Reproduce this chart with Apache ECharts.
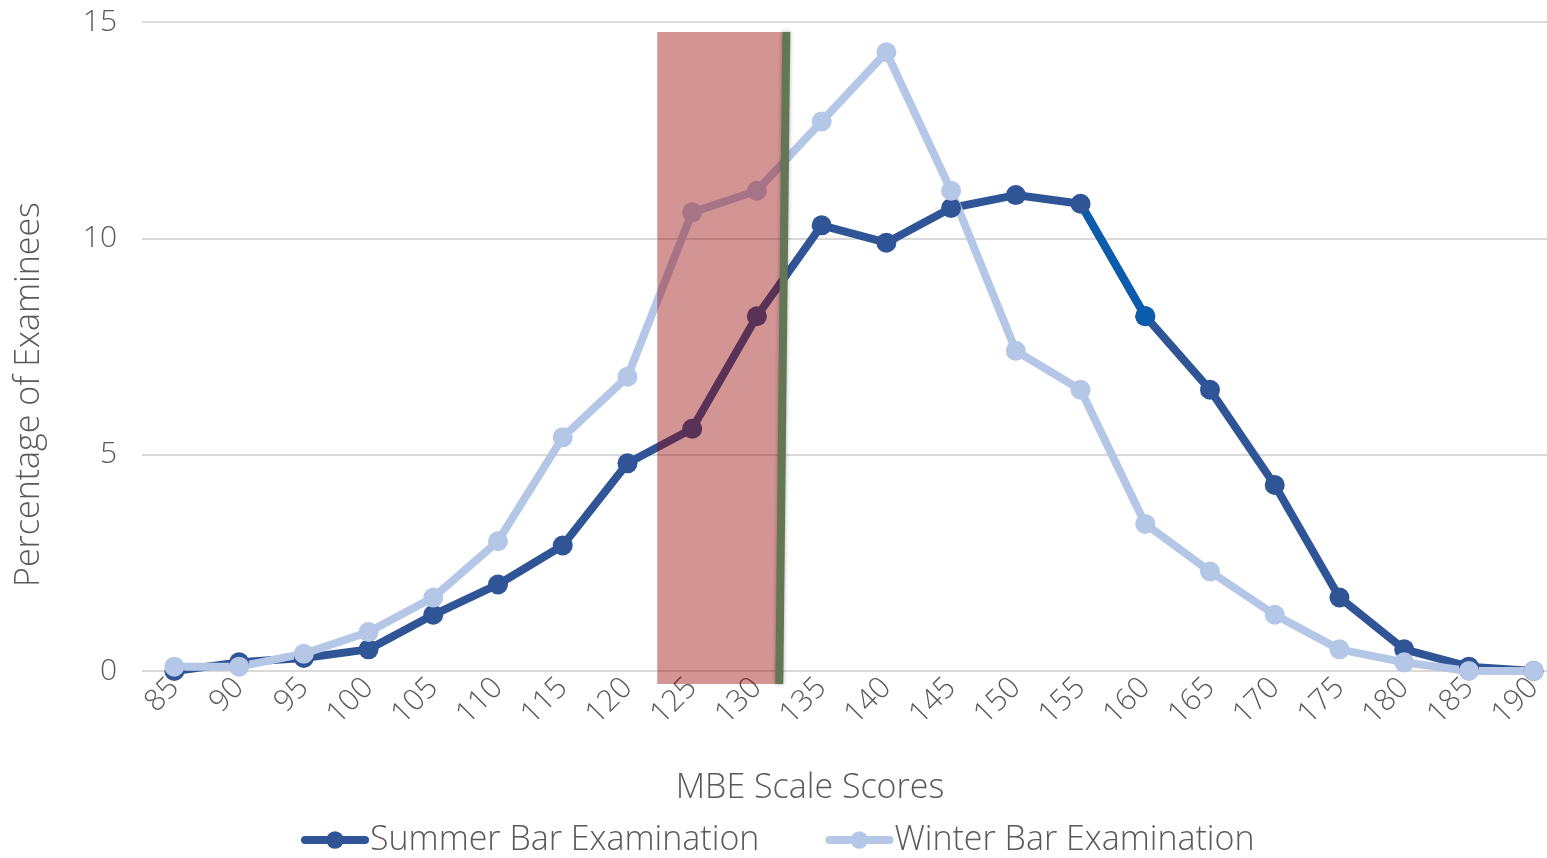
<!DOCTYPE html>
<html>
<head>
<meta charset="utf-8">
<script src="https://cdn.jsdelivr.net/npm/echarts@6/dist/echarts.min.js"></script>
<style>
  html, body { margin: 0; padding: 0; background: #ffffff; overflow: hidden; }
  #chart { width: 1566px; height: 858px; }
</style>
</head>
<body>
<div id="chart"></div>
<script>
// MBE scale score buckets
const scores = ['85','90','95','100','105','110','115','120','125','130','135','140','145','150','155','160','165','170','175','180','185','190'];

// Percentage of examinees per score bucket
const summerPct = [0.0, 0.2, 0.3, 0.5, 1.3, 2.0, 2.9, 4.8, 5.6, 8.2, 10.3, 9.9, 10.7, 11.0, 10.8, 8.2, 6.5, 4.3, 1.7, 0.5, 0.1, 0.0];
const winterPct = [0.1, 0.1, 0.4, 0.9, 1.7, 3.0, 5.4, 6.8, 10.6, 11.1, 12.7, 14.3, 11.1, 7.4, 6.5, 3.4, 2.3, 1.3, 0.5, 0.2, 0.0, 0.0];

// Summer segment drawn in the brighter blue
const accentFrom = '155';
const accentTo = '160';

// Shaded score band [scoreFrom, scoreTo, pctBottom, pctTop]
const shadedBand = [122.3, 132.0, -0.3, 14.77];
// Cut line endpoints [score, pct]
const cutTop = [132.27, 14.77];
const cutBottom = [131.73, -0.3];

const yTicks = [0, 5, 10, 15];

const TEXT = '#595959';
const FONT = '"Open Sans", Lato, sans-serif';

const accentData = scores.map((s, i) => {
  if (s === accentFrom) return { value: summerPct[i], symbol: 'none' };
  if (s === accentTo) return { value: summerPct[i] };
  return null;
});

const chart = echarts.init(document.getElementById('chart'), null, { renderer: 'canvas' });

chart.setOption({
  animation: false,
  backgroundColor: '#ffffff',
  textStyle: { fontFamily: FONT, fontWeight: 300 },
  grid: { left: 142, right: 0, top: 22, bottom: 187, containLabel: false, outerBoundsMode: 'none' },
  legend: {
    data: ['Summer Bar Examination', 'Winter Bar Examination'],
    top: 818,
    left: 296,
    itemWidth: 60,
    itemHeight: 22,
    itemGap: 66,
    lineStyle: { width: 8, cap: 'round' },
    textStyle: { color: TEXT, fontSize: 34, fontFamily: FONT, fontWeight: 300 }
  },
  xAxis: [
    {
      type: 'category',
      data: scores,
      boundaryGap: true,
      axisLine: { show: false },
      axisTick: { show: false },
      axisLabel: { color: TEXT, fontSize: 30, rotate: 45, margin: 12, fontFamily: FONT, fontWeight: 300 },
      name: 'MBE Scale Scores',
      nameLocation: 'middle',
      nameGap: 100,
      nameTextStyle: { color: TEXT, fontSize: 34, fontFamily: FONT, fontWeight: 300, padding: [0, 88, 0, 0] }
    },
    {
      type: 'value',
      min: 82.5,
      max: 192.5,
      show: false
    }
  ],
  yAxis: {
    type: 'value',
    min: yTicks[0],
    max: yTicks[yTicks.length - 1],
    interval: 5,
    axisLine: { show: false },
    axisTick: { show: false },
    axisLabel: { color: TEXT, fontSize: 30, margin: 25, fontFamily: FONT, fontWeight: 300 },
    splitLine: { lineStyle: { color: '#d9d9d9', width: 2 } },
    name: 'Percentage of Examinees',
    nameLocation: 'middle',
    nameRotate: 90,
    nameGap: 96,
    nameTextStyle: { color: TEXT, fontSize: 34, fontFamily: FONT, fontWeight: 300, padding: [0, 96, 0, 0] }
  },
  series: [
    {
      name: 'Summer Bar Examination',
      type: 'line',
      data: summerPct,
      symbol: 'circle',
      symbolSize: 20,
      lineStyle: { color: '#2F5597', width: 8 },
      itemStyle: { color: '#2F5597' }
    },
    {
      name: 'Winter Bar Examination',
      type: 'line',
      data: winterPct,
      symbol: 'circle',
      symbolSize: 20,
      lineStyle: { color: '#B4C7E7', width: 8 },
      itemStyle: { color: '#B4C7E7' }
    },
    {
      name: 'accent',
      type: 'line',
      data: accentData,
      symbol: 'circle',
      symbolSize: 20,
      connectNulls: false,
      lineStyle: { color: '#0B5CAD', width: 8 },
      itemStyle: { color: '#0B5CAD' }
    },
    {
      name: 'band',
      type: 'custom',
      xAxisIndex: 1,
      yAxisIndex: 0,
      z: 5,
      data: [shadedBand],
      renderItem: function (params, api) {
        const p0 = api.coord([api.value(0), api.value(3)]);
        const p1 = api.coord([api.value(1), api.value(2)]);
        return {
          type: 'rect',
          shape: { x: p0[0], y: p0[1], width: p1[0] - p0[0], height: p1[1] - p0[1] },
          style: { fill: 'rgba(150,0,0,0.42)' }
        };
      }
    },
    {
      name: 'cut',
      type: 'custom',
      xAxisIndex: 1,
      yAxisIndex: 0,
      z: 6,
      data: [[cutTop[0], cutTop[1], cutBottom[0], cutBottom[1]]],
      renderItem: function (params, api) {
        const a = api.coord([api.value(0), api.value(1)]);
        const b = api.coord([api.value(2), api.value(3)]);
        return {
          type: 'line',
          shape: { x1: a[0], y1: a[1], x2: b[0], y2: b[1] },
          style: { stroke: '#637656', lineWidth: 8, shadowBlur: 4, shadowColor: 'rgba(0,0,0,0.3)' }
        };
      }
    }
  ]
});
</script>
</body>
</html>
